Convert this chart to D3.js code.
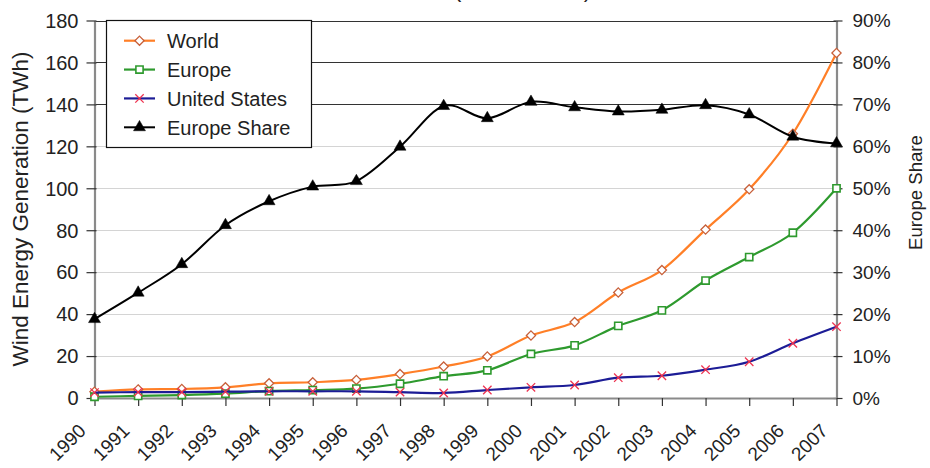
<!DOCTYPE html>
<html>
<head>
<meta charset="utf-8">
<script src="https://cdn.jsdelivr.net/npm/d3@7"></script>
<style>
  html, body { margin: 0; padding: 0; background: #fff; }
  svg { display: block; font-family: "Liberation Sans", Arial, sans-serif; }
</style>
</head>
<body>
<svg id="chart" width="930" height="468"></svg>
<script>
// Wind energy generation 1990–2007 (TWh) and Europe's share of world generation (%)
const years = [1990, 1991, 1992, 1993, 1994, 1995, 1996, 1997, 1998,
               1999, 2000, 2001, 2002, 2003, 2004, 2005, 2006, 2007];
const world = [3.0, 4.1, 4.3, 5.1, 7.0, 7.5, 8.6, 11.4, 15.0,
               19.8, 29.8, 36.2, 50.3, 61.0, 80.3, 99.5, 126.0, 164.5];
const europe = [0.6, 1.0, 1.4, 2.1, 3.3, 3.8, 4.5, 6.8, 10.4,
                13.2, 21.0, 25.1, 34.4, 41.8, 56.0, 67.2, 78.8, 100.0];
const unitedStates = [2.6, 2.8, 2.8, 3.0, 3.2, 3.2, 3.2, 2.8, 2.4,
                      3.8, 5.1, 6.2, 9.7, 10.6, 13.5, 17.3, 26.1, 34.0];
const europeShare = [18.8, 25.1, 31.9, 41.2, 46.9, 50.4, 51.7, 59.9, 69.6,
                     66.7, 70.6, 69.3, 68.3, 68.7, 69.8, 67.6, 62.3, 60.7];
const leftTicks = [0, 20, 40, 60, 80, 100, 120, 140, 160, 180];
const rightTicks = [0, 10, 20, 30, 40, 50, 60, 70, 80, 90];
const seriesNames = ["World", "Europe", "United States", "Europe Share"];

const svg = d3.select("#chart");
const x = d3.scalePoint().domain(years).range([94.5, 836.5]);
const yL = d3.scaleLinear().domain([0, 180]).range([398, 20.5]);
const yR = d3.scaleLinear().domain([0, 90]).range([398, 20.5]);

// Title (runs off the top edge)
svg.append("text")
  .attr("x", 591).attr("y", -3)
  .attr("text-anchor", "end")
  .attr("font-size", 22).attr("fill", "#222")
  .text("Wind Generation (1990 – 2007)");

// Horizontal gridlines
svg.append("g").selectAll("line").data(leftTicks.filter(d => d > 0)).join("line")
  .attr("x1", x(years[0])).attr("x2", x(years[years.length - 1]))
  .attr("y1", d => Math.round(yL(d)) + 0.5).attr("y2", d => Math.round(yL(d)) + 0.5)
  .attr("stroke", d => d >= 140 ? "#333" : "#d4d4d4")
  .attr("stroke-width", 1.2);

// Axes
const axisColor = "#8a8a8a";
const gL = svg.append("g").attr("transform", `translate(${x(years[0])},0)`)
  .call(d3.axisLeft(yL).tickValues(leftTicks).tickSizeOuter(0).tickSizeInner(8).tickPadding(8));
const gR = svg.append("g").attr("transform", `translate(${x(years[years.length - 1])},0)`)
  .call(d3.axisRight(yR).tickValues(rightTicks).tickFormat(d => d + "%")
        .tickSizeOuter(0).tickSizeInner(6).tickPadding(10));
const gB = svg.append("g").attr("transform", `translate(0,${yL(0)})`)
  .call(d3.axisBottom(x).tickSizeOuter(0).tickSizeInner(8).tickPadding(0));

[gL, gR, gB].forEach(g => {
  g.select(".domain").attr("stroke", axisColor).attr("stroke-width", 2.2);
  g.selectAll(".tick line").attr("stroke", "#333").attr("stroke-width", 1.2);
  g.selectAll(".tick text").attr("fill", "#222").attr("font-family", "Liberation Sans, Arial, sans-serif");
});
gL.selectAll(".tick line").attr("x2", -8).attr("x1", 2);
gL.selectAll(".tick text").attr("font-size", 20).attr("dy", "0.34em");
gR.selectAll(".tick line").attr("x1", -3).attr("x2", 6);
gR.selectAll(".tick text").attr("font-size", 19).attr("dy", "0.34em");
gB.selectAll(".tick text")
  .attr("font-size", 19)
  .attr("text-anchor", "end")
  .attr("y", 0).attr("dy", 0)
  .attr("transform", "translate(-8,34) rotate(-45)");

// Axis titles
svg.append("text")
  .attr("transform", `translate(28,209) rotate(-90)`)
  .attr("text-anchor", "middle").attr("font-size", 22.5).attr("fill", "#222")
  .text("Wind Energy Generation (TWh)");
svg.append("text")
  .attr("transform", `translate(921.5,192.5) rotate(-90)`)
  .attr("text-anchor", "middle").attr("font-size", 18.6).attr("fill", "#222")
  .text("Europe Share");

// Series styles and marker shapes
const diamondPath = "M0,-4.6L4.6,0L0,4.6L-4.6,0Z";
const squarePath = "M-3.6,-3.6H3.6V3.6H-3.6Z";
const crossPath = "M-4.2,-4.2L4.2,4.2M-4.2,4.2L4.2,-4.2";
const trianglePath = d3.symbol(d3.symbolTriangle, 62)();

const series = [
  { name: seriesNames[0], values: world, y: yL, line: "#ff7f27", width: 2.2,
    marker: diamondPath, mStroke: "#c8603a", mFill: "#fff", mWidth: 1.3 },
  { name: seriesNames[1], values: europe, y: yL, line: "#2e9a2e", width: 2.2,
    marker: squarePath, mStroke: "#2e9a2e", mFill: "#fff", mWidth: 1.6 },
  { name: seriesNames[2], values: unitedStates, y: yL, line: "#1c1c96", width: 2.2,
    marker: crossPath, mStroke: "#ee3350", mFill: "none", mWidth: 1.3 },
  { name: seriesNames[3], values: europeShare, y: yR, line: "#000", width: 2.0,
    marker: trianglePath, mStroke: "#000", mFill: "#000", mWidth: 0.5 }
];

const plot = svg.append("g");
series.forEach(s => {
  const line = d3.line()
    .x((d, i) => x(years[i]))
    .y(d => s.y(d))
    .curve(d3.curveCardinal.tension(0));
  plot.append("path")
    .datum(s.values)
    .attr("fill", "none")
    .attr("stroke", s.line)
    .attr("stroke-width", s.width)
    .attr("stroke-linejoin", "round")
    .attr("d", line);
  plot.append("g").selectAll("path").data(s.values).join("path")
    .attr("transform", (d, i) => `translate(${x(years[i])},${s.y(d)})`)
    .attr("d", s.marker)
    .attr("fill", s.mFill)
    .attr("stroke", s.mStroke)
    .attr("stroke-width", s.mWidth);
});

// Legend
const legend = svg.append("g");
legend.append("rect")
  .attr("x", 106.5).attr("y", 20.5).attr("width", 205).attr("height", 127)
  .attr("fill", "#fff").attr("stroke", "#111").attr("stroke-width", 1.2);
const rowY = d3.scalePoint().domain(seriesNames).range([40.7, 127.3]);
series.forEach(s => {
  const yy = rowY(s.name);
  legend.append("line")
    .attr("x1", 124).attr("x2", 155).attr("y1", yy).attr("y2", yy)
    .attr("stroke", s.line).attr("stroke-width", s.width);
  legend.append("path")
    .attr("transform", `translate(139.5,${yy})`)
    .attr("d", s.marker)
    .attr("fill", s.mFill).attr("stroke", s.mStroke).attr("stroke-width", s.mWidth);
  legend.append("text")
    .attr("x", 167).attr("y", yy).attr("dy", "0.36em")
    .attr("font-size", 20).attr("fill", "#222")
    .text(s.name);
});
</script>
</body>
</html>
